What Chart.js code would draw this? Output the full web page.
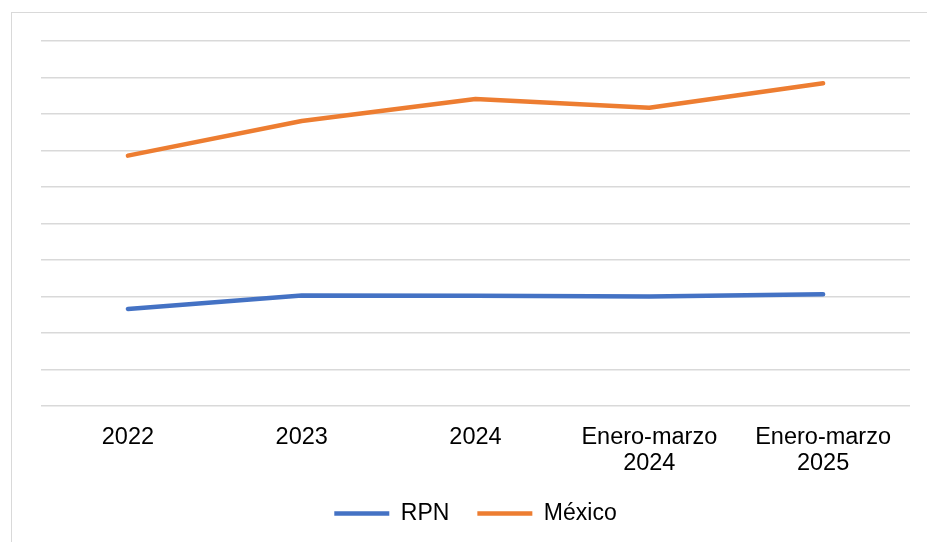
<!DOCTYPE html>
<html>
<head>
<meta charset="utf-8">
<script src="https://cdn.jsdelivr.net/npm/chart.js@4.4.1/dist/chart.umd.min.js"></script>
<style>
  html, body { margin: 0; padding: 0; background: #fff; }
  .wrap { position: relative; width: 927px; height: 542px; overflow: hidden; }
  .frame { position: absolute; left: 11px; top: 12px; width: 940px; height: 560px;
           border: 1.5px solid #d9d9d9; box-sizing: border-box; }
  canvas { position: absolute; left: 0; top: 0; }
</style>
</head>
<body>
<div class="wrap">
  <div class="frame"></div>
  <canvas id="lineChart" width="927" height="542"></canvas>
</div>
<script>
// values (no axis labels shown, scale 0-10)
const categories = ['2022', '2023', '2024', ['Enero-marzo', '2024'], ['Enero-marzo', '2025']];
const rpnValues = [2.66, 3.03, 3.02, 3.00, 3.06];
const mexicoValues = [6.86, 7.81, 8.41, 8.17, 8.84];
const seriesNames = ['RPN', 'México'];

const gridColor = '#d9d9d9';
const textColor = '#000';

Chart.defaults.font.family = '"Liberation Sans", Arial, sans-serif';
Chart.defaults.color = textColor;

const ctx = document.getElementById('lineChart').getContext('2d');
new Chart(ctx, {
    type: 'line',
    data: {
        labels: categories,
        datasets: [
            {
                label: seriesNames[0],
                data: rpnValues,
                borderColor: '#4472c4',
                backgroundColor: '#4472c4',
                borderWidth: 4.5,
                borderCapStyle: 'round',
                borderJoinStyle: 'round',
                pointRadius: 0,
                tension: 0
            },
            {
                label: seriesNames[1],
                data: mexicoValues,
                borderColor: '#ed7d31',
                backgroundColor: '#ed7d31',
                borderWidth: 4.5,
                borderCapStyle: 'round',
                borderJoinStyle: 'round',
                pointRadius: 0,
                tension: 0
            }
        ]
    },
    options: {
        responsive: false,
        animation: false,
        devicePixelRatio: 1,
        layout: {
            padding: { left: 41, right: 17, top: 41, bottom: 7 }
        },
        scales: {
            x: {
                offset: true,
                grid: { display: false },
                border: { display: false },
                ticks: {
                    padding: 11,
                    maxRotation: 0,
                    autoSkip: false,
                    color: textColor,
                    font: { size: 23.5, lineHeight: 1.106 }
                },
                afterFit: (scale) => { scale.height = 68; }
            },
            y: {
                min: 0,
                max: 10,
                ticks: { display: false, stepSize: 1 },
                grid: { color: gridColor, lineWidth: 1.5, drawTicks: false },
                border: { display: false },
                afterFit: (scale) => { scale.width = 0; }
            }
        },
        plugins: {
            legend: {
                position: 'bottom',
                labels: {
                    usePointStyle: true,
                    pointStyle: 'line',
                    pointStyleWidth: 55,
                    padding: 28,
                    color: textColor,
                    font: { size: 23 }
                }
            },
            tooltip: { enabled: false }
        }
    }
});
</script>
</body>
</html>
